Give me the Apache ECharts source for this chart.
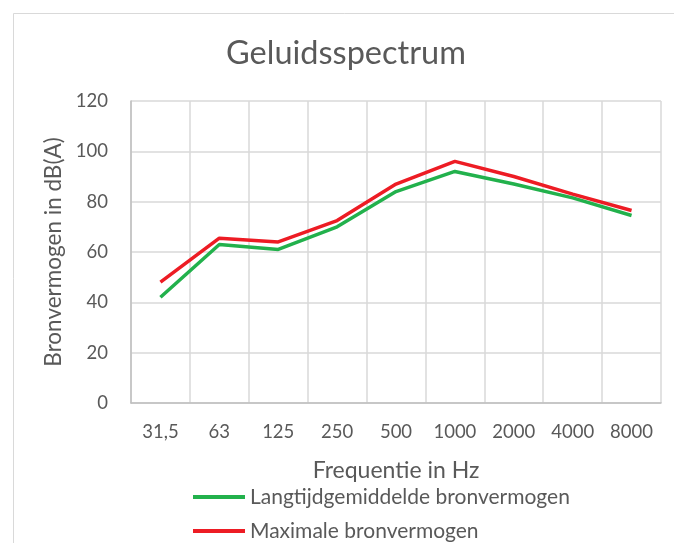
<!DOCTYPE html>
<html>
<head>
<meta charset="utf-8">
<script src="https://cdn.jsdelivr.net/npm/echarts@6/dist/echarts.min.js"></script>
<style>
  html, body { margin: 0; padding: 0; background: #fff; }
  #chart { width: 674px; height: 543px; }
</style>
</head>
<body>
<div id="chart"></div>
<script>
// data
const frequencies = ['31,5', '63', '125', '250', '500', '1000', '2000', '4000', '8000'];
const langtijd = [42, 63, 61, 70, 84, 92, 87, 81.5, 74.5];
const maximaal = [48, 65.5, 64, 72.5, 87, 96, 90, 83, 76.5];

const textColor = '#595959';
const fontFamily = 'Lato, "Open Sans", sans-serif';

const chart = echarts.init(document.getElementById('chart'));

chart.setOption({
  backgroundColor: '#fff',
  textStyle: { fontFamily: fontFamily, color: textColor },
  title: {
    text: 'Geluidsspectrum',
    left: 221,
    top: 32,
    textStyle: { fontSize: 32.5, fontWeight: 'normal', color: textColor, fontFamily: fontFamily }
  },
  graphic: [{
    type: 'rect',
    left: 11, top: 11,
    shape: { width: 700, height: 600 },
    style: { fill: 'none', stroke: '#d9d9d9', lineWidth: 1 },
    silent: true
  }],
  grid: { left: 131, right: 13, top: 101, bottom: 140 },
  legend: {
    orient: 'vertical',
    left: 193,
    top: 486,
    padding: 0,
    itemWidth: 52,
    itemHeight: 4,
    itemGap: 12,
    icon: 'rect',
    textStyle: { fontSize: 21, lineHeight: 22, color: textColor, fontFamily: fontFamily },
    data: ['Langtijdgemiddelde bronvermogen', 'Maximale bronvermogen']
  },
  xAxis: {
    type: 'category',
    data: frequencies,
    boundaryGap: true,
    name: 'Frequentie in Hz',
    nameLocation: 'middle',
    nameGap: 56,
    nameTextStyle: { fontSize: 23, color: textColor },
    axisLine: { lineStyle: { color: '#bfbfbf', width: 1.5 } },
    axisTick: { show: false },
    axisLabel: { fontSize: 18.5, color: textColor, margin: 20, interval: 0 },
    splitLine: { show: true, interval: 0, lineStyle: { color: '#d9d9d9', width: 1.5 } }
  },
  yAxis: {
    type: 'value',
    min: 0,
    max: 120,
    interval: 20,
    name: 'Bronvermogen in dB(A)',
    nameLocation: 'middle',
    nameGap: 64,
    nameTextStyle: { fontSize: 22.5, color: textColor },
    axisLine: { show: true, lineStyle: { color: '#bfbfbf', width: 1.5 } },
    axisTick: { show: false },
    axisLabel: { fontSize: 18.5, color: textColor, margin: 23 },
    splitLine: { lineStyle: { color: '#d9d9d9', width: 1.5 } }
  },
  series: [
    {
      name: 'Langtijdgemiddelde bronvermogen',
      type: 'line',
      data: langtijd,
      symbol: 'none',
      lineStyle: { color: '#22b14c', width: 3.5 },
      itemStyle: { color: '#22b14c' }
    },
    {
      name: 'Maximale bronvermogen',
      type: 'line',
      data: maximaal,
      symbol: 'none',
      lineStyle: { color: '#ed1c24', width: 3.5 },
      itemStyle: { color: '#ed1c24' }
    }
  ],
  animation: false
});
</script>
</body>
</html>
